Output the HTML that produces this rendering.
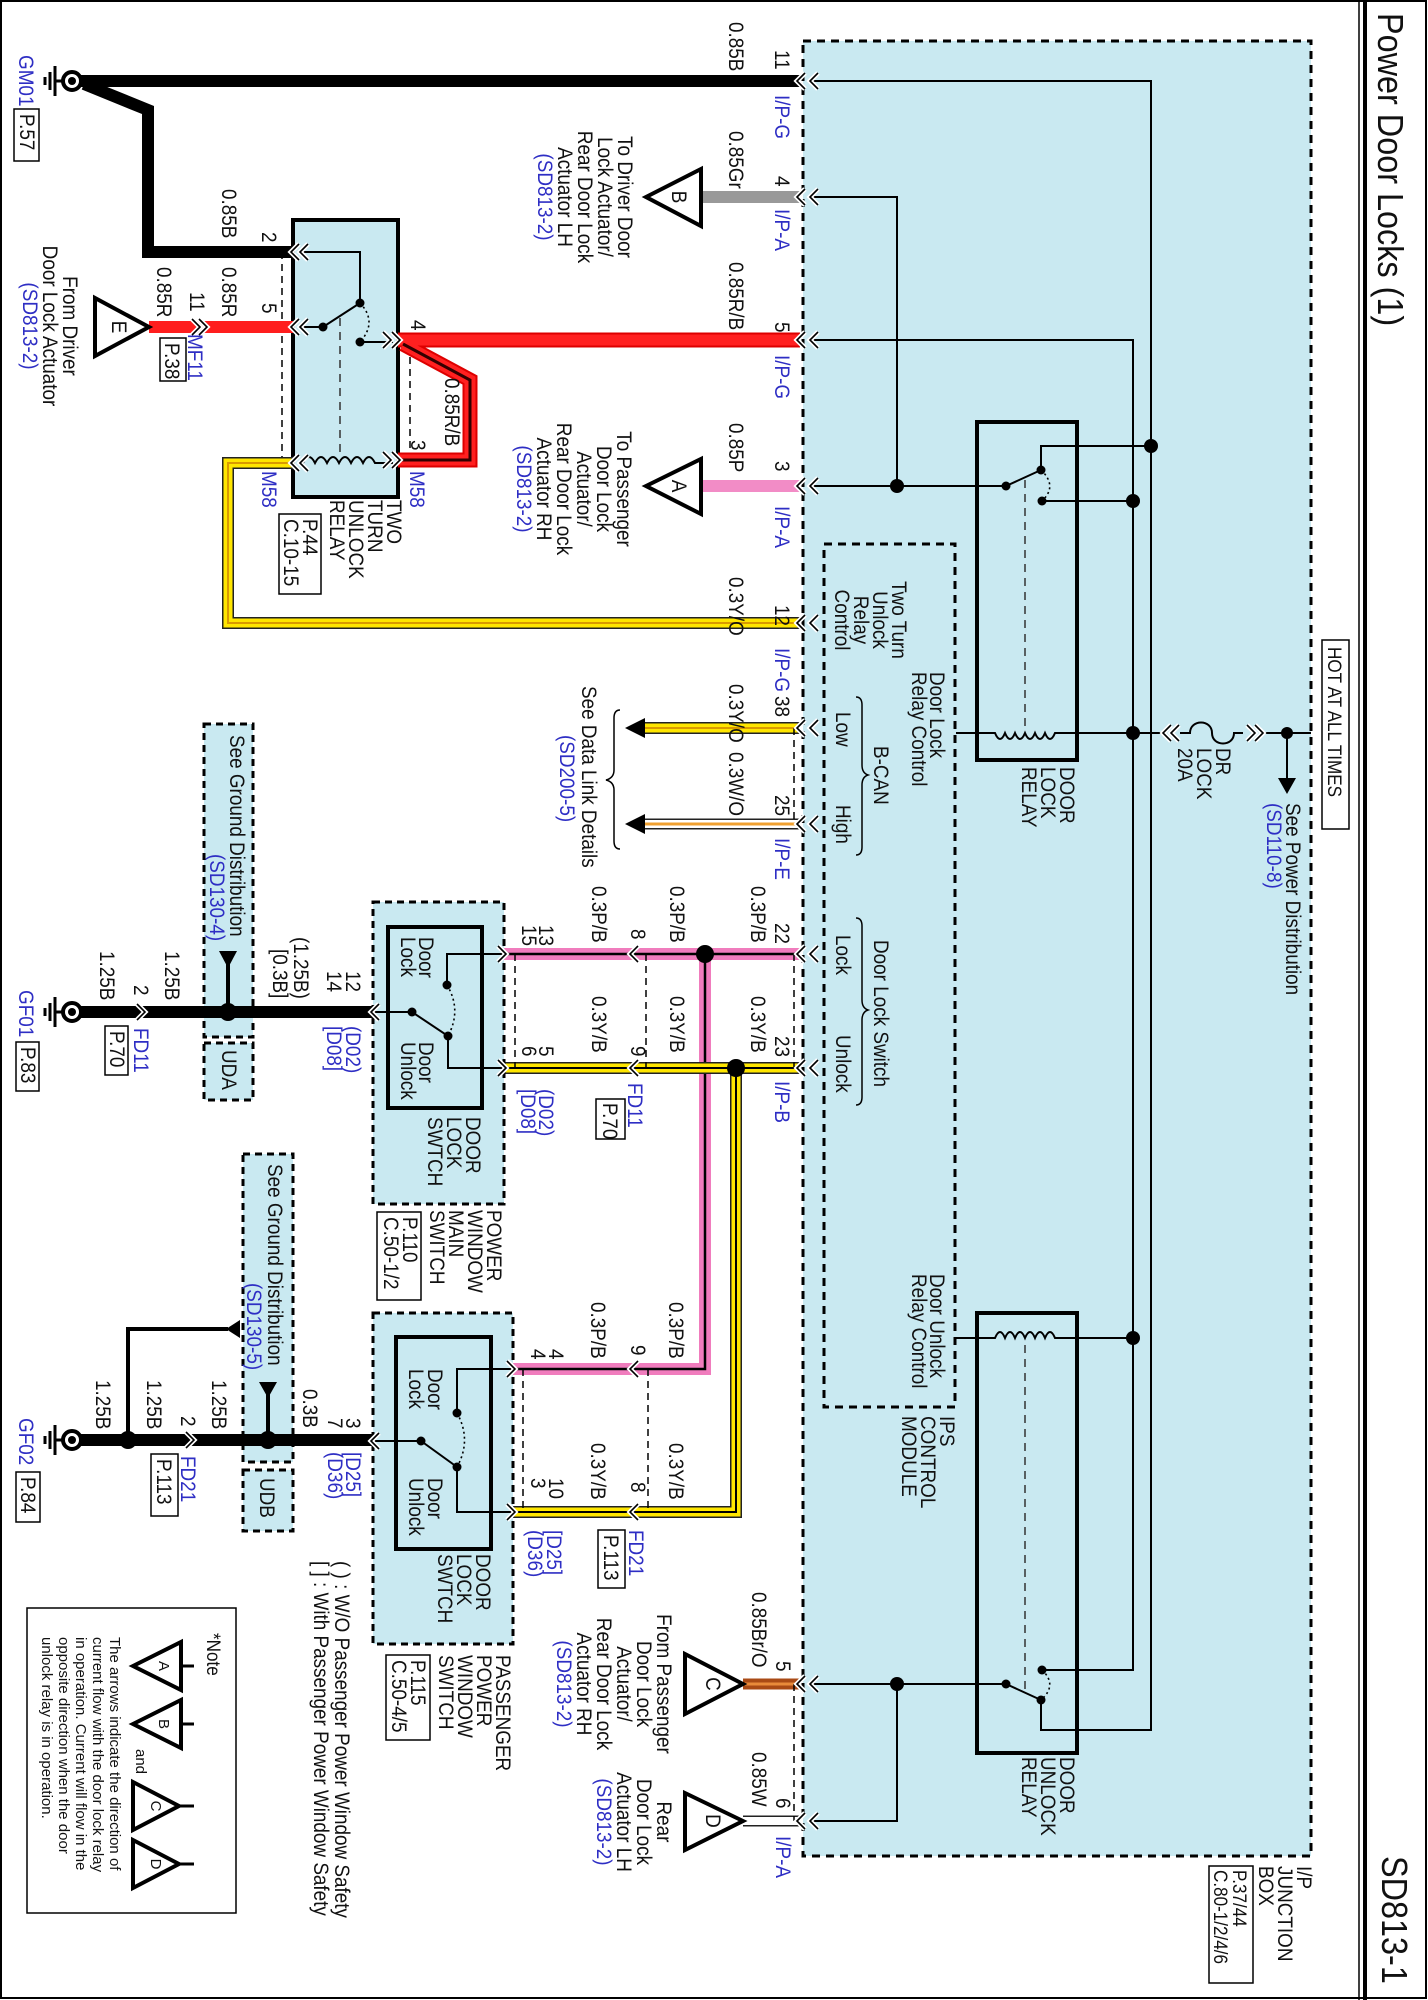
<!DOCTYPE html>
<html><head><meta charset="utf-8"><style>
html,body{margin:0;padding:0;background:#fff}
svg{display:block}
text{font-family:"Liberation Sans",Arial,sans-serif;font-size:21px;fill:#111}
.b{fill:#2e2ec4}
.s{font-size:15px}
.w{fill:none;stroke-linejoin:miter;stroke-linecap:butt}
.tl{fill:none;stroke:#000;stroke-width:2}
.dsh{fill:none;stroke:#000;stroke-width:1.5;stroke-dasharray:7 5}
</style></head><body>
<svg width="1428" height="2000" viewBox="0 0 1428 2000" xmlns="http://www.w3.org/2000/svg">
<defs>
<g id="cl"><polyline points="8,-8 0,0 8,8" fill="none" stroke="#fff" stroke-width="5"/><polyline points="8,-8 0,0 8,8" fill="none" stroke="#000" stroke-width="1.6"/></g>
<g id="cr"><polyline points="-8,-8 0,0 -8,8" fill="none" stroke="#fff" stroke-width="5"/><polyline points="-8,-8 0,0 -8,8" fill="none" stroke="#000" stroke-width="1.6"/></g>
<g id="gnd"><line x1="-12" y1="-15" x2="-12" y2="15" stroke="#000" stroke-width="3"/><line x1="-17" y1="-9" x2="-17" y2="9" stroke="#000" stroke-width="3"/><line x1="-22" y1="-4" x2="-22" y2="4" stroke="#000" stroke-width="3"/><line x1="-12" y1="0" x2="-4" y2="0" stroke="#000" stroke-width="3"/><circle cx="5" cy="0" r="9" fill="#fff" stroke="#000" stroke-width="4"/><circle cx="5" cy="0" r="4" fill="#000"/></g>
</defs>
<rect x="1" y="1" width="1425" height="1997" fill="none" stroke="#000" stroke-width="2"/>
<line x1="1359" y1="0" x2="1359" y2="2000" stroke="#000" stroke-width="1.5"/>
<line x1="1365" y1="0" x2="1365" y2="2000" stroke="#000" stroke-width="4"/>
<rect x="27" y="1608" width="209" height="305" fill="#fff" stroke="#000" stroke-width="1.5"/>

<!-- I/P junction box -->
<rect x="803" y="41" width="508" height="1815" fill="#c9e9f1" stroke="#000" stroke-width="3" stroke-dasharray="8 6"/>
<rect x="824" y="544" width="131" height="863" fill="none" stroke="#000" stroke-width="3" stroke-dasharray="8 6"/>

<path class="tl" d="M810,81 H1151 V1730 H1041 V1700"/>
<path class="tl" d="M810,197 H897 V486"/>
<path class="tl" d="M810,340 H1133 V1670 H1042"/>
<path class="tl" d="M810,486 H1006 L1041,470 V446 H1151"/>
<path class="tl" d="M1042,501 H1133"/>
<path d="M1041,470 Q1058,486 1042,501" fill="none" stroke="#000" stroke-width="1.6" stroke-dasharray="2 3"/>
<line x1="1025" y1="480" x2="1025" y2="730" stroke="#333" stroke-width="1.5" stroke-dasharray="8 6"/>
<path class="tl" d="M956,733 H995 q5,12 10,0 q5,12 10,0 q5,12 10,0 q5,12 10,0 q5,12 10,0 q5,12 10,0 H1163"/>
<path class="tl" d="M1180,733 H1190 c0,-14 22,-14 22,0 c0,14 22,14 22,0 H1243 M1262,733 H1311"/>
<use href="#cl" x="1163" y="733"/><use href="#cl" x="1171" y="733"/>
<use href="#cr" x="1255" y="733"/><use href="#cr" x="1263" y="733"/>
<circle cx="1287" cy="733" r="6"/>
<line x1="1287" y1="733" x2="1287" y2="780" stroke="#000" stroke-width="2"/>
<polygon points="1278,778 1296,778 1287,794"/>
<rect x="977" y="422" width="100" height="338" fill="none" stroke="#000" stroke-width="4"/>
<circle cx="897" cy="486" r="7"/><circle cx="1006" cy="486" r="4.5"/><circle cx="1041" cy="470" r="4.5"/><circle cx="1042" cy="501" r="4.5"/>
<circle cx="1151" cy="446" r="7"/><circle cx="1133" cy="501" r="7"/><circle cx="1133" cy="733" r="7"/>

<rect x="977" y="1313" width="100" height="440" fill="none" stroke="#000" stroke-width="4"/>
<path class="tl" d="M956,1338 H995 q5,-12 10,0 q5,-12 10,0 q5,-12 10,0 q5,-12 10,0 q5,-12 10,0 q5,-12 10,0 H1133"/>
<circle cx="1133" cy="1338" r="7"/>
<line x1="1025" y1="1345" x2="1025" y2="1692" stroke="#333" stroke-width="1.5" stroke-dasharray="8 6"/>
<path class="tl" d="M810,1684 H1006 L1041,1700 M897,1684 V1821 H810"/>
<path d="M1042,1670 Q1058,1685 1041,1700" fill="none" stroke="#000" stroke-width="1.6" stroke-dasharray="2 3"/>
<circle cx="897" cy="1684" r="7"/><circle cx="1006" cy="1684" r="4.5"/><circle cx="1041" cy="1700" r="4.5"/><circle cx="1042" cy="1670" r="4.5"/>

<path class="tl" style="stroke-width:1.5" d="M856,697 q6,0 6,8 V765 q0,8 6,10 q-6,2 -6,10 V847 q0,8 -6,8"/>
<path class="tl" style="stroke-width:1.5" d="M856,918 q6,0 6,8 V1000 q0,8 6,10 q-6,2 -6,10 V1097 q0,8 -6,8"/>
<path class="tl" style="stroke-width:1.5" d="M620,710 q-6,0 -6,8 V770 q0,8 -8,10 q8,2 8,10 V841 q0,8 6,8"/>

<rect x="293" y="220" width="105" height="277" fill="#c9e9f1" stroke="#000" stroke-width="4"/>
<path class="tl" d="M298,252 H360 V303 M298,327 H323 L360,303 M360,342 H393 M298,463 H303 q6,-12 12,0 q6,-12 12,0 q6,-12 12,0 q6,-12 12,0 q6,-12 12,0 q6,-12 12,0 H393"/>
<path d="M360,303 Q378,322 360,342" fill="none" stroke="#000" stroke-width="1.6" stroke-dasharray="2 3"/>
<line x1="340" y1="318" x2="340" y2="458" stroke="#333" stroke-width="1.5" stroke-dasharray="8 6"/>
<circle cx="360" cy="303" r="4.5"/><circle cx="323" cy="327" r="4.5"/><circle cx="360" cy="342" r="4.5"/>
<line class="dsh" x1="282" y1="252" x2="282" y2="463"/>
<line class="dsh" x1="410" y1="345" x2="410" y2="460"/>

<path class="w" stroke="#000" stroke-width="12" d="M800,81 H70 M84,84 L148,110 V252 H293"/>
<path class="w" stroke="#999" stroke-width="12" d="M701,197 H800"/>
<path class="w" stroke="#ff1e1e" stroke-width="12" d="M149,327 H293"/>
<path class="w" stroke="#d00" stroke-width="15" d="M398,340 H800 M403,344 L470,380 V460 H398"/>
<path class="w" stroke="#ff2020" stroke-width="11" d="M398,340 H800 M403,344 L470,380 V460 H398"/>
<path class="w" stroke="#300" stroke-width="3" d="M403,344 L470,380 V460 H398"/>
<path class="w" stroke="#f28cc6" stroke-width="12" d="M701,486 H800"/>
<path class="w" stroke="#222" stroke-width="12" d="M293,463 H228 V623 H800 M644,728 H800"/>
<path class="w" stroke="#ffe600" stroke-width="9" d="M293,463 H228 V623 H800 M644,728 H800"/>
<path class="w" stroke="#d99a00" stroke-width="2" d="M293,463 H228 V623 H800 M644,728 H800"/>
<path class="w" stroke="#222" stroke-width="11" d="M644,824 H800"/>
<path class="w" stroke="#fff" stroke-width="8" d="M644,824 H800"/>
<path class="w" stroke="#f0a030" stroke-width="3" d="M644,824 H800"/>
<polygon points="625,728 645,718 645,738"/><polygon points="625,824 645,814 645,834"/>
<path class="w" stroke="#f07cbd" stroke-width="12" d="M800,954 H504 M705,954 V1369 H513"/>
<path class="w" stroke="#000" stroke-width="2.5" d="M800,954 H504 M705,954 V1369 H513"/>
<path class="w" stroke="#222" stroke-width="12" d="M800,1068 H504 M736,1068 V1512 H513"/>
<path class="w" stroke="#ffe600" stroke-width="9" d="M800,1068 H504 M736,1068 V1512 H513"/>
<path class="w" stroke="#000" stroke-width="2" d="M800,1068 H504 M736,1068 V1512 H513"/>
<circle cx="705" cy="954" r="9"/><circle cx="736" cy="1068" r="9"/>
<path class="w" stroke="#a94a15" stroke-width="11" d="M743,1684 H800"/>
<path class="w" stroke="#e88a3a" stroke-width="3" d="M743,1684 H800"/>
<path class="w" stroke="#222" stroke-width="11" d="M743,1821 H800"/>
<path class="w" stroke="#fff" stroke-width="8" d="M743,1821 H800"/>

<rect x="204" y="724" width="49" height="313" fill="#c9e9f1" stroke="#000" stroke-width="3" stroke-dasharray="7 5"/>
<rect x="204" y="1043" width="49" height="57" fill="#c9e9f1" stroke="#000" stroke-width="3" stroke-dasharray="7 5"/>
<rect x="243" y="1154" width="50" height="308" fill="#c9e9f1" stroke="#000" stroke-width="3" stroke-dasharray="7 5"/>
<rect x="243" y="1470" width="50" height="61" fill="#c9e9f1" stroke="#000" stroke-width="3" stroke-dasharray="7 5"/>

<rect x="373" y="902" width="131" height="302" fill="#c9e9f1" stroke="#000" stroke-width="3" stroke-dasharray="7 5"/>
<rect x="388" y="927" width="94" height="181" fill="none" stroke="#000" stroke-width="4"/>
<rect x="373" y="1313" width="140" height="331" fill="#c9e9f1" stroke="#000" stroke-width="3" stroke-dasharray="7 5"/>
<rect x="396" y="1337" width="95" height="212" fill="none" stroke="#000" stroke-width="4"/>

<path class="w" stroke="#000" stroke-width="12" d="M78,1012 H373 M78,1440 H373"/>
<path class="w" stroke="#000" stroke-width="4" d="M228,962 V1012 M268,1392 V1440 M128,1440 V1329 H228"/>
<polygon points="219,951 237,951 228,968"/><polygon points="259,1382 277,1382 268,1398"/>
<polygon points="226,1329 240,1320 240,1338"/>
<circle cx="228" cy="1012" r="9"/><circle cx="268" cy="1440" r="9"/><circle cx="128" cy="1440" r="9"/>

<path class="tl" d="M504,954 H447 V985 M373,1012 H412 L448,1036 V1068 H504"/>
<path d="M447,985 Q462,1010 448,1036" fill="none" stroke="#000" stroke-width="1.6" stroke-dasharray="2 3"/>
<circle cx="447" cy="985" r="4.5"/><circle cx="412" cy="1012" r="4.5"/><circle cx="448" cy="1036" r="4.5"/>
<path class="tl" d="M513,1369 H457 V1413 M373,1441 H421 L457,1467 V1512 H513"/>
<path d="M457,1413 Q472,1440 457,1467" fill="none" stroke="#000" stroke-width="1.6" stroke-dasharray="2 3"/>
<circle cx="457" cy="1413" r="4.5"/><circle cx="421" cy="1441" r="4.5"/><circle cx="457" cy="1467" r="4.5"/>

<line class="dsh" x1="515" y1="954" x2="515" y2="1068"/><line class="dsh" x1="646" y1="954" x2="646" y2="1068"/>
<line class="dsh" x1="523" y1="1369" x2="523" y2="1512"/><line class="dsh" x1="648" y1="1369" x2="648" y2="1512"/>
<line class="dsh" x1="794" y1="728" x2="794" y2="824"/><line class="dsh" x1="794" y1="954" x2="794" y2="1068"/>
<line class="dsh" x1="794" y1="1684" x2="794" y2="1821"/>

<use href="#gnd" x="67" y="81"/><use href="#gnd" x="67" y="1012"/><use href="#gnd" x="67" y="1440"/>

<use href="#cl" x="797" y="81"/><use href="#cl" x="810" y="81"/>
<use href="#cl" x="797" y="197"/><use href="#cl" x="810" y="197"/>
<use href="#cl" x="797" y="340"/><use href="#cl" x="810" y="340"/>
<use href="#cl" x="797" y="486"/><use href="#cl" x="810" y="486"/>
<use href="#cl" x="797" y="623"/><use href="#cl" x="810" y="623"/>
<use href="#cl" x="797" y="728"/><use href="#cl" x="810" y="728"/>
<use href="#cl" x="797" y="824"/><use href="#cl" x="810" y="824"/>
<use href="#cl" x="797" y="954"/><use href="#cl" x="810" y="954"/>
<use href="#cl" x="797" y="1068"/><use href="#cl" x="810" y="1068"/>
<use href="#cl" x="797" y="1684"/><use href="#cl" x="810" y="1684"/>
<use href="#cl" x="797" y="1821"/><use href="#cl" x="810" y="1821"/>
<use href="#cl" x="291" y="252"/><use href="#cl" x="300" y="252"/>
<use href="#cl" x="291" y="327"/><use href="#cl" x="300" y="327"/>
<use href="#cl" x="291" y="463"/><use href="#cl" x="300" y="463"/>
<use href="#cr" x="400" y="340"/><use href="#cr" x="391" y="340"/>
<use href="#cr" x="400" y="460"/><use href="#cr" x="391" y="460"/>
<use href="#cr" x="200" y="327"/><use href="#cr" x="207" y="327"/>
<use href="#cr" x="145" y="1012"/><use href="#cr" x="194" y="1440"/>
<use href="#cl" x="630" y="954"/><use href="#cl" x="630" y="1068"/>
<use href="#cl" x="630" y="1369"/><use href="#cl" x="630" y="1512"/>
<use href="#cr" x="506" y="954"/><use href="#cr" x="506" y="1068"/>
<use href="#cr" x="515" y="1369"/><use href="#cr" x="515" y="1512"/>
<use href="#cl" x="371" y="1012"/><use href="#cl" x="371" y="1441"/>

<g fill="#fff" stroke="#000" stroke-width="1.5">
<rect x="14" y="109" width="25" height="52"/><rect x="160" y="338" width="26" height="43"/>
<rect x="279" y="514" width="42" height="80"/><rect x="596" y="1099" width="29" height="40"/>
<rect x="598" y="1530" width="27" height="58"/><rect x="105" y="1026" width="23" height="49"/>
<rect x="16" y="1042" width="23" height="49"/><rect x="377" y="1212" width="44" height="88"/>
<rect x="151" y="1454" width="27" height="62"/><rect x="16" y="1472" width="24" height="50"/>
<rect x="386" y="1655" width="44" height="85"/>
<rect x="1322" y="640" width="27" height="189"/><rect x="1209" y="1866" width="44" height="117"/>
</g>

<g fill="#fff" stroke="#000" stroke-width="4">
<polygon points="646,197 701,169 701,226"/>
<polygon points="646,486 701,459 701,514"/>
<polygon points="149,327 95,298 95,356"/>
<polygon points="743,1684 685,1654 685,1714"/>
<polygon points="743,1821 685,1793 685,1850"/>
<polygon points="133,1666 181,1642 181,1690"/>
<polygon points="133,1724 181,1700 181,1748"/>
<polygon points="179,1806 133,1782 133,1830"/>
<polygon points="179,1864 133,1840 133,1888"/>
</g>
<path class="tl" style="stroke-width:3" d="M181,1666 H194 M181,1724 H194 M179,1806 H194 M179,1864 H194"/>

<g>
<text transform="translate(1378,13)rotate(90)scale(.9,1)" style="font-size:36px">Power Door Locks (1)</text>
<text transform="translate(1382,1856)rotate(90)scale(.9,1)" style="font-size:36px">SD813-1</text>
<text transform="translate(1328,647)rotate(90)scale(.9,1)" style="font-size:19px">HOT AT ALL TIMES</text>

<text transform="translate(729,22)rotate(90)scale(.9,1)">0.85B</text>
<text transform="translate(775,50)rotate(90)scale(.9,1)">11</text>
<text class="b" transform="translate(775,95)rotate(90)scale(.9,1)">I/P-G</text>
<text transform="translate(729,131)rotate(90)scale(.9,1)">0.85Gr</text>
<text transform="translate(775,176)rotate(90)scale(.9,1)">4</text>
<text class="b" transform="translate(775,209)rotate(90)scale(.9,1)">I/P-A</text>
<text transform="translate(729,262)rotate(90)scale(.9,1)">0.85R/B</text>
<text transform="translate(775,322)rotate(90)scale(.9,1)">5</text>
<text class="b" transform="translate(775,355)rotate(90)scale(.9,1)">I/P-G</text>
<text transform="translate(729,423)rotate(90)scale(.9,1)">0.85P</text>
<text transform="translate(775,461)rotate(90)scale(.9,1)">3</text>
<text class="b" transform="translate(775,506)rotate(90)scale(.9,1)">I/P-A</text>
<text transform="translate(729,577)rotate(90)scale(.9,1)">0.3Y/O</text>
<text transform="translate(775,605)rotate(90)scale(.9,1)">12</text>
<text class="b" transform="translate(775,648)rotate(90)scale(.9,1)">I/P-G</text>
<text transform="translate(729,684)rotate(90)scale(.9,1)">0.3Y/O</text>
<text transform="translate(775,696)rotate(90)scale(.9,1)">38</text>
<text transform="translate(729,752)rotate(90)scale(.9,1)">0.3W/O</text>
<text transform="translate(775,795)rotate(90)scale(.9,1)">25</text>
<text class="b" transform="translate(775,838)rotate(90)scale(.9,1)">I/P-E</text>
<text transform="translate(751,886)rotate(90)scale(.9,1)">0.3P/B</text>
<text transform="translate(775,923)rotate(90)scale(.9,1)">22</text>
<text transform="translate(751,996)rotate(90)scale(.9,1)">0.3Y/B</text>
<text transform="translate(775,1036)rotate(90)scale(.9,1)">23</text>
<text class="b" transform="translate(775,1081)rotate(90)scale(.9,1)">I/P-B</text>
<text transform="translate(670,886)rotate(90)scale(.9,1)">0.3P/B</text>
<text transform="translate(670,996)rotate(90)scale(.9,1)">0.3Y/B</text>
<text transform="translate(631,929)rotate(90)scale(.9,1)">8</text>
<text transform="translate(631,1046)rotate(90)scale(.9,1)">9</text>
<text transform="translate(592,886)rotate(90)scale(.9,1)">0.3P/B</text>
<text transform="translate(592,996)rotate(90)scale(.9,1)">0.3Y/B</text>
<text transform="translate(539,925)rotate(90)scale(.9,1)">13</text>
<text transform="translate(522,925)rotate(90)scale(.9,1)">15</text>
<text transform="translate(539,1046)rotate(90)scale(.9,1)">5</text>
<text transform="translate(522,1046)rotate(90)scale(.9,1)">6</text>
<text class="b" transform="translate(539,1089)rotate(90)scale(.9,1)">(D02)</text>
<text class="b" transform="translate(521,1089)rotate(90)scale(.9,1)">[D08]</text>
<text class="b" transform="translate(628,1083)rotate(90)scale(.9,1)">FD11</text>
<text transform="translate(603,1103)rotate(90)scale(.9,1)">P.70</text>

<text transform="translate(669,1302)rotate(90)scale(.9,1)">0.3P/B</text>
<text transform="translate(591,1302)rotate(90)scale(.9,1)">0.3P/B</text>
<text transform="translate(631,1345)rotate(90)scale(.9,1)">9</text>
<text transform="translate(549,1349)rotate(90)scale(.9,1)">4</text>
<text transform="translate(531,1349)rotate(90)scale(.9,1)">4</text>
<text transform="translate(669,1443)rotate(90)scale(.9,1)">0.3Y/B</text>
<text transform="translate(591,1443)rotate(90)scale(.9,1)">0.3Y/B</text>
<text transform="translate(631,1482)rotate(90)scale(.9,1)">8</text>
<text transform="translate(549,1478)rotate(90)scale(.9,1)">10</text>
<text transform="translate(531,1478)rotate(90)scale(.9,1)">3</text>
<text class="b" transform="translate(547,1530)rotate(90)scale(.9,1)">[D25]</text>
<text class="b" transform="translate(528,1530)rotate(90)scale(.9,1)">(D36)</text>
<text class="b" transform="translate(629,1530)rotate(90)scale(.9,1)">FD21</text>
<text transform="translate(604,1535)rotate(90)scale(.9,1)">P.113</text>

<text transform="translate(752,1592)rotate(90)scale(.9,1)">0.85Br/O</text>
<text transform="translate(776,1661)rotate(90)scale(.9,1)">5</text>
<text transform="translate(752,1752)rotate(90)scale(.9,1)">0.85W</text>
<text transform="translate(776,1798)rotate(90)scale(.9,1)">6</text>
<text class="b" transform="translate(776,1836)rotate(90)scale(.9,1)">I/P-A</text>
<text text-anchor="middle" transform="translate(657,1684)rotate(90)scale(.9,1)"><tspan x="0">From Passenger</tspan><tspan x="0" dy="20">Door Lock</tspan><tspan x="0" dy="20">Actuator/</tspan><tspan x="0" dy="20">Rear Door Lock</tspan><tspan x="0" dy="20">Actuator RH</tspan><tspan x="0" dy="20" class="b">(SD813-2)</tspan></text>
<text text-anchor="middle" transform="translate(657,1822)rotate(90)scale(.9,1)"><tspan x="0">Rear</tspan><tspan x="0" dy="20">Door Lock</tspan><tspan x="0" dy="20">Actuator LH</tspan><tspan x="0" dy="20" class="b">(SD813-2)</tspan></text>
<text text-anchor="middle" transform="translate(618,197)rotate(90)scale(.9,1)"><tspan x="0">To Driver Door</tspan><tspan x="0" dy="20">Lock Actuator/</tspan><tspan x="0" dy="20">Rear Door Lock</tspan><tspan x="0" dy="20">Actuator LH</tspan><tspan x="0" dy="20" class="b">(SD813-2)</tspan></text>
<text text-anchor="middle" transform="translate(617,489)rotate(90)scale(.9,1)"><tspan x="0">To Passenger</tspan><tspan x="0" dy="20">Door Lock</tspan><tspan x="0" dy="20">Actuator/</tspan><tspan x="0" dy="20">Rear Door Lock</tspan><tspan x="0" dy="20">Actuator RH</tspan><tspan x="0" dy="20" class="b">(SD813-2)</tspan></text>

<text text-anchor="middle" transform="translate(672,197)rotate(90)scale(.9,1)">B</text>
<text text-anchor="middle" transform="translate(672,486)rotate(90)scale(.9,1)">A</text>
<text text-anchor="middle" transform="translate(112,327)rotate(90)scale(.9,1)">E</text>
<text text-anchor="middle" transform="translate(706,1684)rotate(90)scale(.9,1)">C</text>
<text text-anchor="middle" transform="translate(706,1821)rotate(90)scale(.9,1)">D</text>
<text text-anchor="middle" class="s" transform="translate(159,1666)rotate(90)">A</text>
<text text-anchor="middle" class="s" transform="translate(159,1724)rotate(90)">B</text>
<text text-anchor="middle" class="s" transform="translate(151,1806)rotate(90)">C</text>
<text text-anchor="middle" class="s" transform="translate(151,1864)rotate(90)">D</text>
<text class="s" transform="translate(136,1749)rotate(90)">and</text>
<text transform="translate(207,1633)rotate(90)scale(.9,1)" style="font-size:19px">*Note</text>
<text class="s" transform="translate(110,1637)rotate(90)"><tspan x="0">The arrows indicate the direction of</tspan><tspan x="0" dy="17">current flow with the door lock relay</tspan><tspan x="0" dy="17">in operation. Current will flow in the</tspan><tspan x="0" dy="17">opposite direction when the door</tspan><tspan x="0" dy="17">unlock relay is in operation.</tspan></text>
<text transform="translate(335,1561)rotate(90)scale(.9,1)">( ) : W/O Passenger Power Window Safety</text>
<text transform="translate(314,1561)rotate(90)scale(.9,1)">[ ] : With Passenger Power Window Safety</text>

<text class="b" transform="translate(19,55)rotate(90)scale(.9,1)">GM01</text>
<text transform="translate(20,114)rotate(90)scale(.9,1)">P.57</text>
<text transform="translate(222,189)rotate(90)scale(.9,1)">0.85B</text>
<text transform="translate(262,232)rotate(90)scale(.9,1)">2</text>
<text transform="translate(222,267)rotate(90)scale(.9,1)">0.85R</text>
<text transform="translate(157,267)rotate(90)scale(.9,1)">0.85R</text>
<text transform="translate(190,292)rotate(90)scale(.9,1)">11</text>
<text transform="translate(262,303)rotate(90)scale(.9,1)">5</text>
<text class="b" transform="translate(188,334)rotate(90)scale(.9,1)">MF11</text>
<text transform="translate(165,343)rotate(90)scale(.9,1)">P.38</text>
<text text-anchor="middle" transform="translate(63,326)rotate(90)scale(.9,1)"><tspan x="0">From Driver</tspan><tspan x="0" dy="20">Door Lock Actuator</tspan><tspan x="0" dy="20" class="b">(SD813-2)</tspan></text>
<text transform="translate(411,320)rotate(90)scale(.9,1)">4</text>
<text transform="translate(411,440)rotate(90)scale(.9,1)">3</text>
<text transform="translate(445,378)rotate(90)scale(.9,1)">0.85R/B</text>
<text class="b" transform="translate(410,471)rotate(90)scale(.9,1)">M58</text>
<text class="b" transform="translate(262,471)rotate(90)scale(.9,1)">M58</text>
<text transform="translate(387,500)rotate(90)scale(.9,1)"><tspan x="0">TWO</tspan><tspan x="0" dy="19">TURN</tspan><tspan x="0" dy="19">UNLOCK</tspan><tspan x="0" dy="19">RELAY</tspan></text>
<text transform="translate(303,519)rotate(90)scale(.9,1)"><tspan x="0">P.44</tspan><tspan x="0" dy="19">C.10-15</tspan></text>

<text transform="translate(230,735)rotate(90)scale(.9,1)">See Ground Distribution</text>
<text class="b" transform="translate(210,854)rotate(90)scale(.9,1)">(SD130-4)</text>
<text transform="translate(222,1050)rotate(90)scale(.9,1)">UDA</text>
<text transform="translate(294,937)rotate(90)scale(.9,1)">(1.25B)</text>
<text transform="translate(273,949)rotate(90)scale(.9,1)">[0.3B]</text>
<text transform="translate(346,971)rotate(90)scale(.9,1)">12</text>
<text transform="translate(327,971)rotate(90)scale(.9,1)">14</text>
<text class="b" transform="translate(346,1026)rotate(90)scale(.9,1)">(D02)</text>
<text class="b" transform="translate(327,1026)rotate(90)scale(.9,1)">[D08]</text>
<text transform="translate(165,951)rotate(90)scale(.9,1)">1.25B</text>
<text transform="translate(100,951)rotate(90)scale(.9,1)">1.25B</text>
<text transform="translate(134,985)rotate(90)scale(.9,1)">2</text>
<text class="b" transform="translate(134,1028)rotate(90)scale(.9,1)">FD11</text>
<text transform="translate(110,1031)rotate(90)scale(.9,1)">P.70</text>
<text class="b" transform="translate(19,990)rotate(90)scale(.9,1)">GF01</text>
<text transform="translate(21,1047)rotate(90)scale(.9,1)">P.83</text>
<text transform="translate(419,937)rotate(90)scale(.9,1)"><tspan x="0">Door</tspan><tspan x="0" dy="18">Lock</tspan></text>
<text transform="translate(419,1042)rotate(90)scale(.9,1)"><tspan x="0">Door</tspan><tspan x="0" dy="18">Unlock</tspan></text>
<text transform="translate(466,1117)rotate(90)scale(.9,1)"><tspan x="0">DOOR</tspan><tspan x="0" dy="19">LOCK</tspan><tspan x="0" dy="19">SWTCH</tspan></text>
<text transform="translate(487,1210)rotate(90)scale(.9,1)"><tspan x="0">POWER</tspan><tspan x="0" dy="19">WINDOW</tspan><tspan x="0" dy="19">MAIN</tspan><tspan x="0" dy="19">SWITCH</tspan></text>
<text transform="translate(403,1217)rotate(90)scale(.9,1)"><tspan x="0">P.110</tspan><tspan x="0" dy="19">C.50-1/2</tspan></text>
<text transform="translate(582,686)rotate(90)scale(.9,1)">See Data Link Details</text>
<text class="b" transform="translate(560,735)rotate(90)scale(.9,1)">(SD200-5)</text>

<text transform="translate(268,1164)rotate(90)scale(.9,1)">See Ground Distribution</text>
<text class="b" transform="translate(247,1283)rotate(90)scale(.9,1)">(SD130-5)</text>
<text transform="translate(260,1478)rotate(90)scale(.9,1)">UDB</text>
<text transform="translate(303,1389)rotate(90)scale(.9,1)">0.3B</text>
<text transform="translate(212,1380)rotate(90)scale(.9,1)">1.25B</text>
<text transform="translate(147,1380)rotate(90)scale(.9,1)">1.25B</text>
<text transform="translate(96,1380)rotate(90)scale(.9,1)">1.25B</text>
<text transform="translate(346,1418)rotate(90)scale(.9,1)">3</text>
<text transform="translate(328,1418)rotate(90)scale(.9,1)">7</text>
<text class="b" transform="translate(346,1452)rotate(90)scale(.9,1)">[D25]</text>
<text class="b" transform="translate(328,1452)rotate(90)scale(.9,1)">(D36)</text>
<text transform="translate(181,1416)rotate(90)scale(.9,1)">2</text>
<text class="b" transform="translate(181,1456)rotate(90)scale(.9,1)">FD21</text>
<text transform="translate(157,1459)rotate(90)scale(.9,1)">P.113</text>
<text class="b" transform="translate(19,1418)rotate(90)scale(.9,1)">GF02</text>
<text transform="translate(21,1477)rotate(90)scale(.9,1)">P.84</text>
<text transform="translate(428,1369)rotate(90)scale(.9,1)"><tspan x="0">Door</tspan><tspan x="0" dy="19">Lock</tspan></text>
<text transform="translate(428,1478)rotate(90)scale(.9,1)"><tspan x="0">Door</tspan><tspan x="0" dy="19">Unlock</tspan></text>
<text transform="translate(476,1554)rotate(90)scale(.9,1)"><tspan x="0">DOOR</tspan><tspan x="0" dy="19">LOCK</tspan><tspan x="0" dy="19">SWTCH</tspan></text>
<text transform="translate(496,1655)rotate(90)scale(.9,1)"><tspan x="0">PASSENGER</tspan><tspan x="0" dy="19">POWER</tspan><tspan x="0" dy="19">WINDOW</tspan><tspan x="0" dy="19">SWITCH</tspan></text>
<text transform="translate(411,1660)rotate(90)scale(.9,1)"><tspan x="0">P.115</tspan><tspan x="0" dy="19">C.50-4/5</tspan></text>

<text text-anchor="middle" transform="translate(892,620)rotate(90)scale(.9,1)"><tspan x="0">Two Turn</tspan><tspan x="0" dy="19">Unlock</tspan><tspan x="0" dy="19">Relay</tspan><tspan x="0" dy="19">Control</tspan></text>
<text transform="translate(930,672)rotate(90)scale(.9,1)"><tspan x="0">Door Lock</tspan><tspan x="0" dy="18">Relay Control</tspan></text>
<text transform="translate(836,712)rotate(90)scale(.9,1)">Low</text>
<text transform="translate(836,805)rotate(90)scale(.9,1)">High</text>
<text transform="translate(874,746)rotate(90)scale(.9,1)">B-CAN</text>
<text transform="translate(836,935)rotate(90)scale(.9,1)">Lock</text>
<text transform="translate(836,1035)rotate(90)scale(.9,1)">Unlock</text>
<text transform="translate(874,940)rotate(90)scale(.9,1)">Door Lock Switch</text>
<text transform="translate(930,1274)rotate(90)scale(.9,1)"><tspan x="0">Door Unlock</tspan><tspan x="0" dy="18">Relay Control</tspan></text>
<text transform="translate(940,1416)rotate(90)scale(.9,1)"><tspan x="0">IPS</tspan><tspan x="0" dy="19">CONTROL</tspan><tspan x="0" dy="19">MODULE</tspan></text>
<text transform="translate(1060,767)rotate(90)scale(.9,1)"><tspan x="0">DOOR</tspan><tspan x="0" dy="19">LOCK</tspan><tspan x="0" dy="19">RELAY</tspan></text>
<text transform="translate(1060,1757)rotate(90)scale(.9,1)"><tspan x="0">DOOR</tspan><tspan x="0" dy="19">UNLOCK</tspan><tspan x="0" dy="19">RELAY</tspan></text>
<text transform="translate(1216,748)rotate(90)scale(.9,1)"><tspan x="0">DR</tspan><tspan x="0" dy="19">LOCK</tspan><tspan x="0" dy="19">20A</tspan></text>
<text transform="translate(1286,803)rotate(90)scale(.9,1)">See Power Distribution</text>
<text class="b" transform="translate(1267,803)rotate(90)scale(.9,1)">(SD110-8)</text>
<text transform="translate(1297,1866)rotate(90)scale(.9,1)"><tspan x="0">I/P</tspan><tspan x="0" dy="19">JUNCTION</tspan><tspan x="0" dy="19">BOX</tspan></text>
<text transform="translate(1233,1870)rotate(90)scale(.9,1)" style="font-size:19px"><tspan x="0">P.37/44</tspan><tspan x="0" dy="19">C.80-1/2/4/6</tspan></text>
</g>
</svg>
</body></html>
